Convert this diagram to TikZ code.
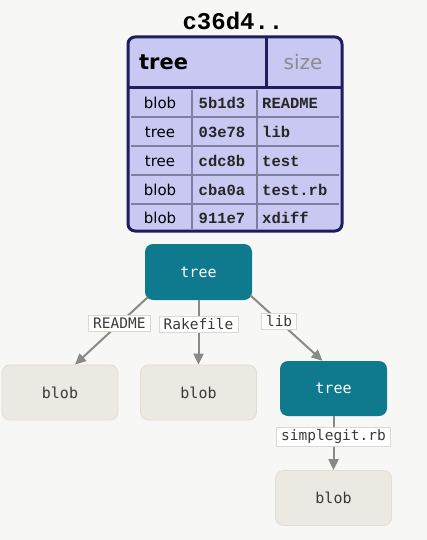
\documentclass[tikz,border=0pt]{standalone}
\usepackage{fontspec}
\usetikzlibrary{arrows.meta,calc}
\newfontfamily\dmono{DejaVu Sans Mono}
\newfontfamily\lmono{Liberation Mono}
\newfontfamily\dsans{DejaVu Sans}
\definecolor{bgc}{HTML}{F7F7F5}
\definecolor{lav}{HTML}{C8C8F2}
\definecolor{navy}{HTML}{1E1E5E}
\definecolor{gridc}{HTML}{7E7EA0}
\definecolor{teal}{HTML}{0F7A8D}
\definecolor{blobc}{HTML}{EBE9E1}
\definecolor{blobb}{HTML}{E0DDD3}
\definecolor{arr}{HTML}{8A8A84}
\definecolor{lblb}{HTML}{DAD8D2}
\definecolor{txt}{HTML}{3A3A3A}
\tikzset{
  treenode/.style={fill=teal, rounded corners=8pt, minimum width=107pt, minimum height=56pt, inner sep=0pt, text=white, font=\dmono\fontsize{15}{17}\selectfont},
  blobnode/.style={fill=blobc, draw=blobb, line width=0.8pt, rounded corners=8pt, minimum width=116pt, minimum height=55pt, inner sep=0pt, text=txt, font=\dmono\fontsize{15}{17}\selectfont},
  edgelbl/.style={fill=white, draw=lblb, line width=0.6pt, inner xsep=4.5pt, inner ysep=2.5pt, text=txt, font=\dmono\fontsize{14.5}{16}\selectfont},
  conn/.style={draw=arr, line width=2pt, -{Triangle[length=11pt,width=10pt]}},
  kind/.style={font=\dsans\fontsize{15}{17}\selectfont, text=black, inner sep=0pt},
  hash/.style={font=\lmono\bfseries\fontsize{15.5}{17}\selectfont, text=black!85, inner sep=0pt},
  fname/.style={font=\lmono\bfseries\fontsize{15.5}{17}\selectfont, text=black!85, inner sep=0pt, anchor=west},
}
\begin{document}
\begin{tikzpicture}[x=1pt,y=-1pt]
\fill[bgc] (0,0) rectangle (427,540);
\useasboundingbox (0,0) rectangle (427,540);

% title
\node[font=\lmono\bfseries\fontsize{24}{26}\selectfont, inner sep=0pt] (title) at (233,21) {c36d4..};

% table
\draw[navy, line width=3pt, fill=lav, rounded corners=7pt] (128,37) rectangle (342,231);
\draw[navy, line width=3pt] (128,88) -- (342,88);
\draw[navy, line width=3pt] (266,37) -- (266,88);
\foreach \yy in {117,146,175,204} \draw[gridc, line width=1.3pt] (131,\yy) -- (339,\yy);
\foreach \xx in {192,257} \draw[gridc, line width=1.3pt] (\xx,90) -- (\xx,229);

\node[font=\dsans\bfseries\fontsize{21}{24}\selectfont, anchor=west, inner sep=0pt] (hdtree) at (139,62) {tree};
\node[font=\dsans\fontsize{20}{24}\selectfont, text=black!45, inner sep=0pt] (hdsize) at (303,62) {size};

\node[kind] (k1) at (160,103) {blob};
\node[kind] (k2) at (160,132) {tree};
\node[kind] (k3) at (160,161) {tree};
\node[kind] (k4) at (160,190) {blob};
\node[kind] (k5) at (160,218) {blob};
\node[hash] (h1) at (222,103) {5b1d3};
\node[hash] (h2) at (222,132) {03e78};
\node[hash] (h3) at (222,161) {cdc8b};
\node[hash] (h4) at (222,190) {cba0a};
\node[hash] (h5) at (222,218) {911e7};
\node[fname] (n1) at (262,103) {README};
\node[fname] (n2) at (262,132) {lib};
\node[fname] (n3) at (262,161) {test};
\node[fname] (n4) at (262,190) {test.rb};
\node[fname] (n5) at (262,218) {xdiff};

% graph
\node[treenode] (t1) at (198.5,272) {tree};
\node[blobnode] (b1) at (60,392.5) {blob};
\node[blobnode] (b2) at (198.5,392.5) {blob};
\node[treenode, minimum height=55pt] (t2) at (333.5,388.5) {tree};
\node[blobnode] (b3) at (333.5,498) {blob};

\draw[conn] ($(t1.south west)+(3,-3)$) -- node[edgelbl, pos=0.39] (l1) {README} ($(b1.north)+(15,0)$);
\draw[conn] (t1.south) -- node[edgelbl, pos=0.37] (l2) {Rakefile} (b2.north);
\draw[conn] ($(t1.south east)+(-2,-5)$) -- node[edgelbl, pos=0.40] (l3) {lib} ($(t2.north)+(-11,0)$);
\draw[conn] (t2.south) -- node[edgelbl, pos=0.38] (l4) {simplegit.rb} (b3.north);
\end{tikzpicture}
\end{document}
